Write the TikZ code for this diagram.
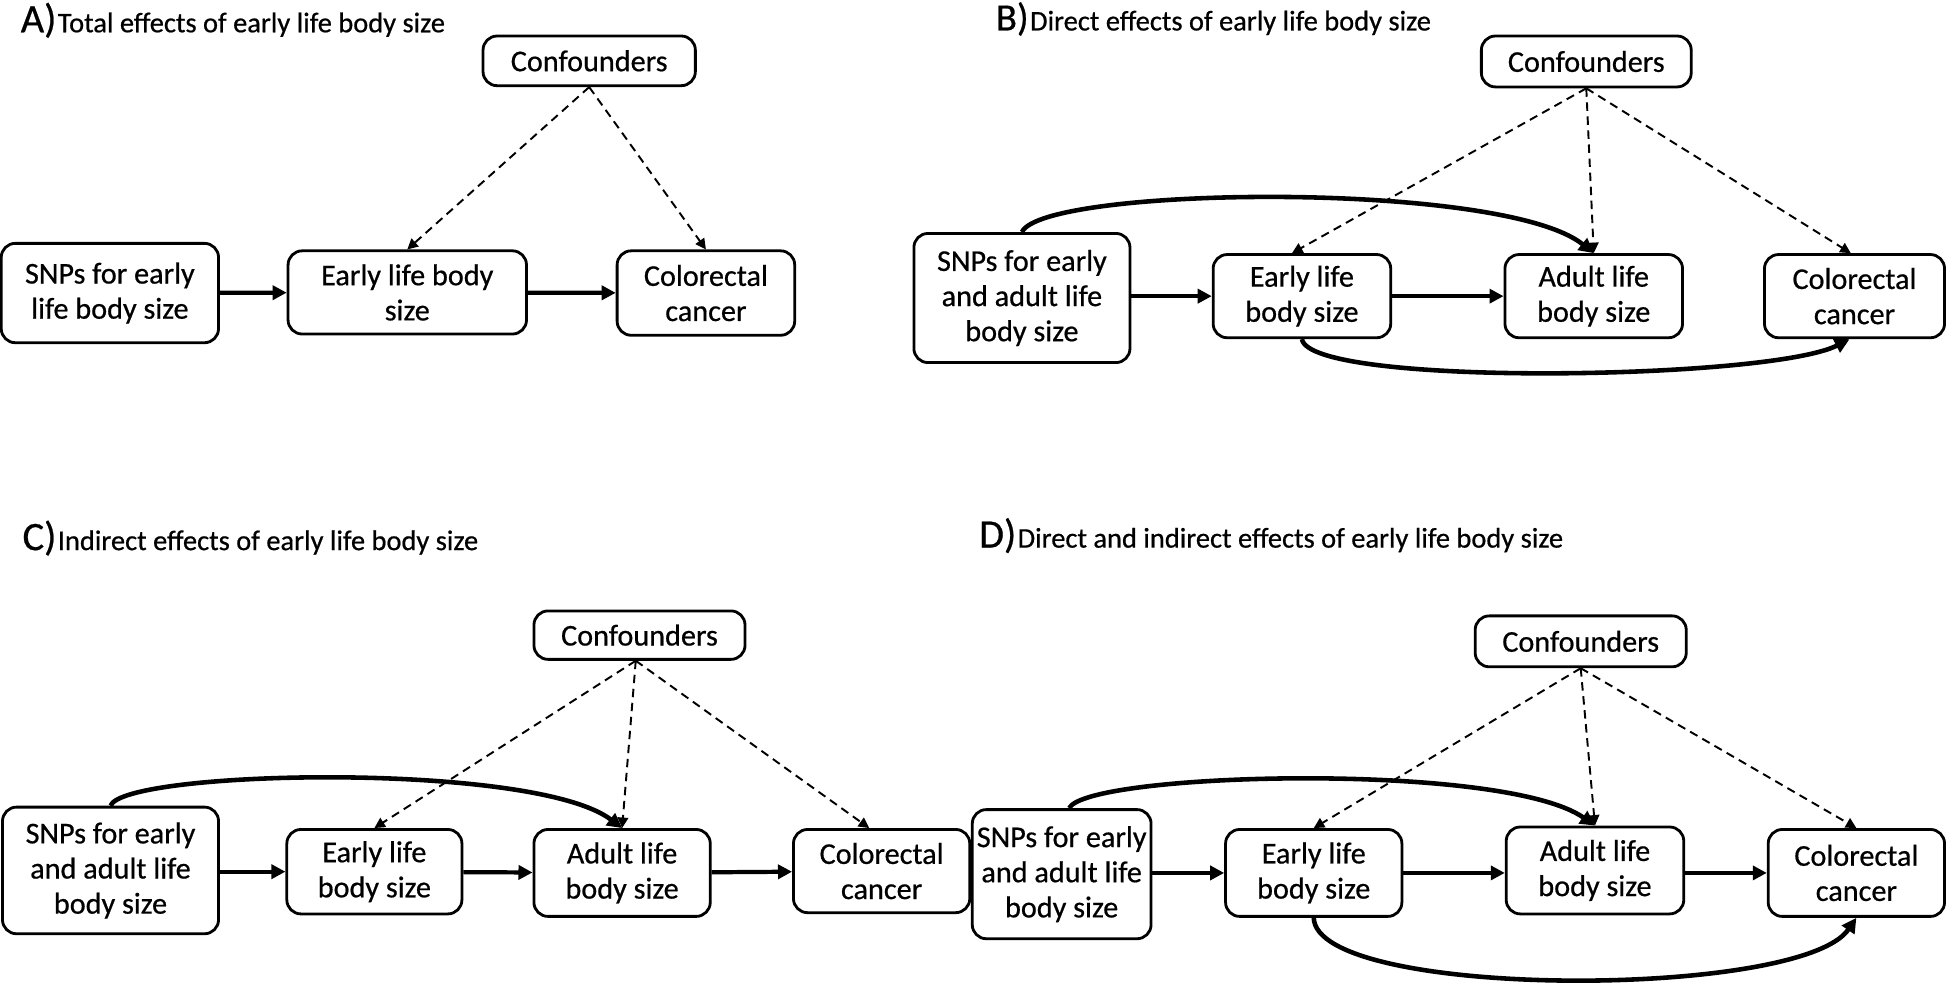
\documentclass[tikz,border=0pt]{standalone}
\usepackage{fontspec}
\setmainfont[FakeBold=0.6]{Carlito}
\usetikzlibrary{arrows.meta,calc}
\newlength{\pxu}\setlength{\pxu}{0.012417cm}
\begin{document}
\begin{tikzpicture}[x=0.012417cm,y=-0.012417cm,
  box/.style={draw, line width=0.8pt, rounded corners=4pt, align=center, inner sep=0pt,
    font=\fontsize{8.6}{10}\selectfont},
  solidarr/.style={line width=1.2pt, -{Triangle[length=4pt,width=4pt]}},
  curvearr/.style={line width=1.3pt, -{Triangle[length=4.2pt,width=4.2pt]}},
  dasharr/.style={line width=0.55pt, dash pattern=on 2.4pt off 1.6pt, -{Triangle[length=3pt,width=3pt]}},
  ttl/.style={anchor=base west, inner sep=0pt, font=\fontsize{8.1}{10}\selectfont},
  lett/.style={anchor=base east, inner sep=0pt, font=\fontsize{11.5}{11.5}\selectfont}]
\useasboundingbox (0,0) rectangle (1568,796);

% ---------- Panel A ----------
\node[ttl] (tA) at (46,26) {Total effects of early life body size};
\node[lett] (lA) at (tA.base west) {A)};
\node[box, minimum width=171\pxu, minimum height=40\pxu] (cA) at (474.5,49) {Confounders};
\node[box, minimum width=175\pxu, minimum height=80\pxu] (sA) at (88.5,236) {SNPs for early\\life body size};
\node[box, minimum width=192\pxu, minimum height=67\pxu] (eA) at (328,235.5) {Early life body\\size};
\node[box, minimum width=143\pxu, minimum height=68\pxu] (kA) at (568.5,236) {Colorectal\\cancer};
\draw[solidarr] (sA) -- (eA);
\draw[solidarr] (eA) -- (kA);
\draw[dasharr] (cA.south) -- (eA.north);
\draw[dasharr] (cA.south) -- (kA.north);

% ---------- Panel B ----------
\node[ttl] (tB) at (829,24.5) {Direct effects of early life body size};
\node[lett, font=\fontsize{11}{11}\selectfont] (lB) at (tB.base west) {B)};
\node[box, minimum width=169\pxu, minimum height=41\pxu] (cB) at (1277.5,49.5) {Confounders};
\node[box, minimum width=174\pxu, minimum height=104\pxu] (sB) at (823,240) {SNPs for early\\and adult life\\body size};
\node[box, minimum width=143\pxu, minimum height=67\pxu] (eB) at (1048.5,238.5) {Early life\\body size};
\node[box, minimum width=143\pxu, minimum height=67\pxu] (aB) at (1283.5,238.5) {Adult life\\body size};
\node[box, minimum width=145\pxu, minimum height=67\pxu] (kB) at (1493.5,238.5) {Colorectal\\cancer};
\draw[solidarr] (sB.east |- eB.west) -- (eB.west);
\draw[solidarr] (eB) -- (aB);
\draw[curvearr] (sB.north) .. controls (840,150) and (1210,145) .. (aB.north);
\draw[curvearr] (eB.south) .. controls (1055,312) and (1425,306) .. ($(kB.south)+(-4,0)$);
\draw[dasharr] (cB.south) -- ($(eB.north)+(-8,0)$);
\draw[dasharr] (cB.south) -- (aB.north);
\draw[dasharr] (cB.south) -- ($(kB.north)+(-3,0)$);

% ---------- Panel C ----------
\node[ttl] (tC) at (46,443) {Indirect effects of early life body size};
\node[lett] (lC) at (tC.base west) {C)};
\node[box, minimum width=170\pxu, minimum height=39\pxu] (cC) at (515,511.5) {Confounders};
\node[box, minimum width=174\pxu, minimum height=102\pxu] (sC) at (89,701) {SNPs for early\\and adult life\\body size};
\node[box, minimum width=141\pxu, minimum height=68\pxu] (eC) at (301.5,702) {Early life\\body size};
\node[box, minimum width=142\pxu, minimum height=70\pxu] (aC) at (501,703) {Adult life\\body size};
\node[box, minimum width=142\pxu, minimum height=67\pxu] (kC) at (710,701.5) {Colorectal\\cancer};
\draw[solidarr] (sC.east |- eC.west) -- (eC.west);
\draw[solidarr] (eC) -- (aC);
\draw[solidarr] (aC) -- (kC);
\draw[curvearr] (sC.north) .. controls (100,620) and (430,613) .. (aC.north);
\draw[dasharr] ($(cC.south)+(-3,0)$) -- (eC.north);
\draw[dasharr] ($(cC.south)+(-3,0)$) -- (aC.north);
\draw[dasharr] ($(cC.south)+(-3,0)$) -- ($(kC.north)+(-10,0)$);

% ---------- Panel D ----------
\node[ttl] (tD) at (819,441) {Direct and indirect effects of early life body size};
\node[lett] (lD) at (tD.base west) {D)};
\node[box, minimum width=170\pxu, minimum height=41\pxu] (cD) at (1273,516.5) {Confounders};
\node[box, minimum width=144\pxu, minimum height=104\pxu] (sD) at (855,704) {SNPs for early\\and adult life\\body size};
\node[box, minimum width=142\pxu, minimum height=70\pxu] (eD) at (1058,703) {Early life\\body size};
\node[box, minimum width=143\pxu, minimum height=70\pxu] (aD) at (1284.5,701) {Adult life\\body size};
\node[box, minimum width=142\pxu, minimum height=70\pxu] (kD) at (1495,703) {Colorectal\\cancer};
\draw[solidarr] (sD.east |- eD.west) -- (eD.west);
\draw[solidarr] (eD) -- (aD.west |- eD.east);
\draw[solidarr] (aD.east |- kD.west) -- (kD.west);
\draw[curvearr] ($(sD.north)+(6,0)$) .. controls (875,622) and (1210,613) .. (aD.north);
\draw[curvearr] (eD.south) .. controls (1060,805) and (1450,805) .. (kD.south);
\draw[dasharr] (cD.south) -- (eD.north);
\draw[dasharr] (cD.south) -- (aD.north);
\draw[dasharr] (cD.south) -- (kD.north);
\end{tikzpicture}
\end{document}
